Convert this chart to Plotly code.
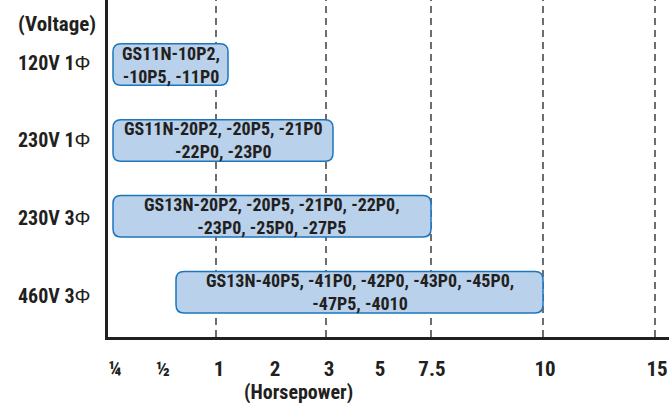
import plotly.graph_objects as go

# ---- data ----
hp_labels = ["¼", "½", "1", "2", "3", "5", "7.5", "10", "15"]
# position of each horsepower mark along the (non-linear) horsepower scale
hp_scale_pos = [1, 49, 105, 161, 215, 266, 318, 431, 543]
dashed_hp = ["1", "3", "7.5", "10", "15"]
dashed_pos = [102, 212, 317, 429, 541]

voltages = ["460V 3", "230V 3", "230V 1", "120V 1"]
voltage_level = [1, 2, 3, 4]
bar_start = [62, -1, -1, -1]
bar_end = [429, 317, 219, 114]
bar_text = ["GS13N-40P5, -41P0, -42P0, -43P0, -45P0,<br>-47P5, -4010",
            "GS13N-20P2, -20P5, -21P0, -22P0,<br>-23P0, -25P0, -27P5",
            "GS11N-20P2, -20P5, -21P0<br>-22P0, -23P0",
            "GS11N-10P2,<br>-10P5, -11P0"]

FONT = "Liberation Sans Narrow, Arial Narrow, Roboto Condensed, Liberation Sans, sans-serif"
PHI = '<span style="font-family:Liberation Sans, Arial, sans-serif;font-weight:normal">Φ</span>'
TXT = "#231f20"
FILL = "#b9d1ea"
EDGE = "#1c76bd"

W, H = 669, 403
ML, MR, MT, MB = 108, 0, 0, 66
XR = [-6, 555]
YR = [0.409, 4.852]
plot_h = H - MT - MB
px_per_y = plot_h / (YR[1] - YR[0])

fig = go.Figure()
fig.add_trace(go.Scatter(x=[], y=[], showlegend=False))

shapes = []
# dashed guide lines
for xv in dashed_pos:
    shapes.append(dict(type="line", xref="x", yref="paper", x0=xv, x1=xv, y0=0, y1=1,
                       line=dict(color="#231f20", width=1.3, dash="7px,5px"), layer="below"))

# rounded bars
rx = 8
ry = 8 / px_per_y
half_h = 20.75 / px_per_y
annotations = []
for yv, x0, x1, txt in zip(voltage_level, bar_start, bar_end, bar_text):
    y0, y1 = yv - half_h, yv + half_h
    path = (f"M {x0+rx},{y0} L {x1-rx},{y0} Q {x1},{y0} {x1},{y0+ry} "
            f"L {x1},{y1-ry} Q {x1},{y1} {x1-rx},{y1} L {x0+rx},{y1} "
            f"Q {x0},{y1} {x0},{y1-ry} L {x0},{y0+ry} Q {x0},{y0} {x0+rx},{y0} Z")
    shapes.append(dict(type="path", xref="x", yref="y", path=path,
                       fillcolor=FILL, line=dict(color=EDGE, width=1.5), layer="above"))
    annotations.append(dict(x=(x0 + x1) / 2, y=yv, xref="x", yref="y", text=txt, showarrow=False,
                            xanchor="center", yanchor="middle", align="center",
                            font=dict(family=FONT, size=18, color=TXT, weight="bold")))

# voltage labels
lab_x = (16 - ML) / (W - ML)
lab_shift = [-4, -2, 0, 2]
for yv, lab, sh in zip(voltage_level, voltages, lab_shift):
    annotations.append(dict(x=lab_x, y=yv, xref="paper", yref="y", text=lab + PHI,
                            showarrow=False, xanchor="left", yanchor="middle", yshift=sh,
                            font=dict(family=FONT, size=20, color=TXT, weight="bold")))
annotations.append(dict(x=lab_x, y=1 - 24 / plot_h, xref="paper", yref="paper", text="(Voltage)",
                        showarrow=False, xanchor="left", yanchor="middle",
                        font=dict(family=FONT, size=21, color=TXT, weight="bold")))
annotations.append(dict(x=184, y=-(392 - plot_h) / plot_h, xref="x", yref="paper",
                        text="(Horsepower)", showarrow=False, xanchor="center", yanchor="middle",
                        borderpad=0,
                        font=dict(family=FONT, size=20, color=TXT, weight="bold")))

fig.update_layout(
    width=W, height=H,
    margin=dict(l=ML, r=MR, t=MT, b=MB, pad=0),
    paper_bgcolor="white", plot_bgcolor="white",
    showlegend=False,
    shapes=shapes, annotations=annotations,
    xaxis=dict(range=XR, showgrid=False, zeroline=False, showline=True, linecolor="#231f20",
               linewidth=2.5, tickmode="array", tickvals=hp_scale_pos, ticktext=hp_labels,
               ticks="", ticklabelstandoff=11,
               tickfont=dict(family=FONT, size=21, color=TXT, weight="bold")),
    yaxis=dict(range=YR, showgrid=False, zeroline=False, showline=True, linecolor="#231f20",
               linewidth=2.5, showticklabels=False, ticks=""),
)

fig.write_html("out.html", config={"displayModeBar": False},
               post_script="document.body.style.margin='0px';")
